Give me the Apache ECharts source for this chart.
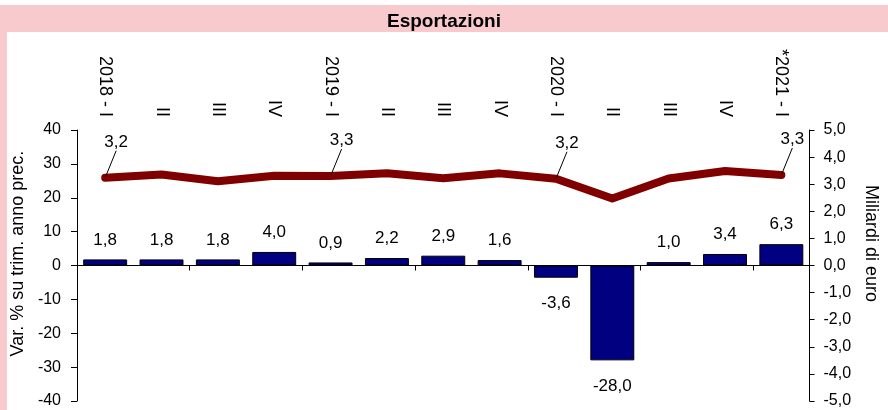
<!DOCTYPE html>
<html>
<head>
<meta charset="utf-8">
<script src="https://cdn.jsdelivr.net/npm/echarts@6/dist/echarts.min.js"></script>
<style>
  html, body { margin: 0; padding: 0; background: #ffffff; }
  #chart { width: 888px; height: 410px; }
</style>
</head>
<body>
<div id="chart"></div>
<script>
// ---- data ----
const categories = ['2018 - I', 'II', 'III', 'IV', '2019 - I', 'II', 'III', 'IV', '2020 - I', 'II', 'III', 'IV', '*2021 - I'];
const barValues = [1.8, 1.8, 1.8, 4.0, 0.9, 2.2, 2.9, 1.6, -3.6, -28.0, 1.0, 3.4, 6.3];   // Var. % su trim. anno prec.
const lineValues = [3.24, 3.36, 3.11, 3.31, 3.3, 3.4, 3.22, 3.4, 3.2, 2.47, 3.21, 3.49, 3.34]; // Miliardi di euro
const labeledPoints = [0, 4, 8, 12];
const leftTicks = { min: -40, max: 40, interval: 10 };
const rightTicks = { min: -5, max: 5, interval: 1 };
const titleText = 'Esportazioni';
const leftName = 'Var. % su trim. anno prec.';
const rightName = 'Miliardi di euro';

const FONT = "'Liberation Sans', Arial, sans-serif";
const PINK = '#F8C9CD';
const comma = v => String(v).replace('.', ',');

const chart = echarts.init(document.getElementById('chart'), null, { renderer: 'canvas' });

const barData = barValues.map(v => ({
  value: v,
  label: { position: v >= 0 ? 'top' : 'bottom', distance: v >= 0 ? 11 : 17 }
}));
const lineData = lineValues.map((v, i) => ({
  value: v,
  label: { show: labeledPoints.indexOf(i) >= 0 },
  labelLine: { show: labeledPoints.indexOf(i) >= 0 }
}));

const option = {
  animation: false,
  backgroundColor: '#ffffff',
  textStyle: { fontFamily: FONT },
  title: {
    text: titleText,
    left: 'center',
    top: 7,
    textStyle: { fontFamily: FONT, fontSize: 19, fontWeight: 'bold', color: '#000' }
  },
  graphic: [
    { type: 'rect', z: -10, shape: { x: 0, y: 5, width: 888, height: 27 }, style: { fill: PINK } },
    { type: 'rect', z: -10, shape: { x: 0, y: 5, width: 7, height: 405 }, style: { fill: PINK } }
  ],
  grid: { left: 77, right: 77, top: 130, bottom: 9, containLabel: false },
  xAxis: [
    {
      type: 'category',
      data: categories,
      position: 'bottom',
      axisLine: { show: true, onZero: true, lineStyle: { color: '#000', width: 1 } },
      axisTick: { show: true, length: 5, lineStyle: { color: '#000' } },
      axisLabel: { show: false },
      splitLine: { show: false }
    },
    {
      type: 'category',
      data: categories,
      position: 'top',
      axisLine: { show: false },
      axisTick: { show: false },
      axisLabel: {
        show: true, rotate: -90, margin: 13, fontSize: 18, color: '#000', fontFamily: FONT,
        interval: 0, align: 'right', verticalAlign: 'middle'
      },
      splitLine: { show: false }
    }
  ],
  yAxis: [
    {
      type: 'value',
      position: 'left',
      min: leftTicks.min, max: leftTicks.max, interval: leftTicks.interval,
      axisLine: { show: true, lineStyle: { color: '#000', width: 1 } },
      axisTick: { show: true, length: 6, lineStyle: { color: '#000' } },
      axisLabel: { fontSize: 16, color: '#000', margin: 16, fontFamily: FONT },
      splitLine: { show: false },
      name: leftName,
      nameLocation: 'middle',
      nameRotate: 90,
      nameGap: 44,
      nameTextStyle: { fontSize: 18, color: '#000', fontFamily: FONT, padding: [0, 0, 0, 24] }
    },
    {
      type: 'value',
      position: 'right',
      min: rightTicks.min, max: rightTicks.max, interval: rightTicks.interval,
      axisLine: { show: true, lineStyle: { color: '#000', width: 1 } },
      axisTick: { show: true, length: 5, lineStyle: { color: '#000' } },
      axisLabel: { fontSize: 16, color: '#000', margin: 14, fontFamily: FONT, formatter: v => comma(v.toFixed(1)) },
      splitLine: { show: false },
      name: rightName,
      nameLocation: 'middle',
      nameRotate: -90,
      nameGap: 46,
      nameTextStyle: { fontSize: 18, color: '#000', fontFamily: FONT, padding: [0, 44, 0, 0] }
    }
  ],
  series: [
    {
      type: 'bar',
      xAxisIndex: 0,
      yAxisIndex: 0,
      data: barData,
      barCategoryGap: '22%',
      itemStyle: { color: '#000080', borderColor: '#000000', borderWidth: 1 },
      label: {
        show: true,
        fontSize: 17,
        color: '#000',
        fontFamily: FONT,
        formatter: p => comma(p.value.toFixed(1))
      },
      z: 2
    },
    {
      type: 'line',
      xAxisIndex: 0,
      yAxisIndex: 1,
      data: lineData,
      symbol: 'circle',
      symbolSize: 2,
      showSymbol: true,
      itemStyle: { color: '#800000' },
      lineStyle: { color: '#800000', width: 8, cap: 'round', join: 'round' },
      label: {
        show: false,
        position: 'top',
        distance: 4,
        fontSize: 17,
        color: '#000',
        fontFamily: FONT,
        formatter: p => comma(p.value.toFixed(1))
      },
      labelLine: { show: false, length2: 0, lineStyle: { color: '#000', width: 1 } },
      labelLayout: { dx: 11, dy: -22 },
      z: 3
    }
  ]
};

chart.setOption(option);
</script>
</body>
</html>
